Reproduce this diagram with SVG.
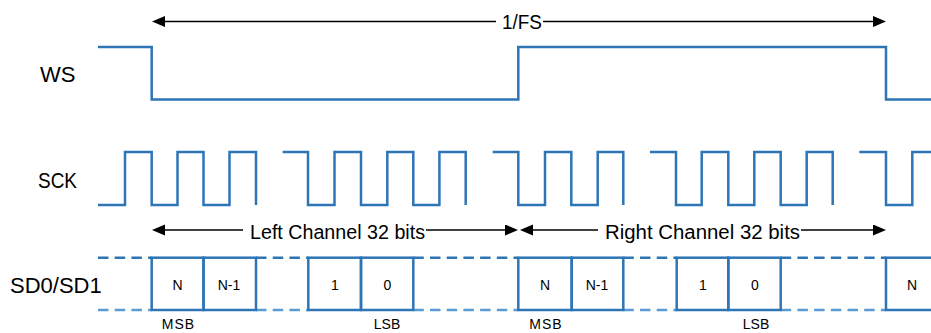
<svg xmlns="http://www.w3.org/2000/svg" width="931" height="333" viewBox="0 0 931 333">
<style>
.wave{fill:none;stroke:#2E75B6;stroke-width:2.5;stroke-linejoin:miter}
.box{fill:none;stroke:#2E75B6;stroke-width:2.5}
.dash{fill:none;stroke:#2E75B6;stroke-width:2.5;stroke-dasharray:10.5 6.2}
.dashb{fill:none;stroke:#5B9BD5;stroke-width:2.5;stroke-dasharray:10.5 6.2}
.arr{fill:none;stroke:#000;stroke-width:1.5}
.lbl{font-family:"Liberation Sans",Arial,sans-serif;font-size:22px;fill:#000}
.mid{font-family:"Liberation Sans",Arial,sans-serif;font-size:20px;fill:#000}
.sm{font-family:"Liberation Sans",Arial,sans-serif;font-size:14px;fill:#000;text-anchor:middle}
</style>
<defs>
<marker id="ah" markerUnits="userSpaceOnUse" markerWidth="14" markerHeight="12" refX="10" refY="5.5" orient="auto-start-reverse">
<path d="M0,0 L13,5.5 L0,11 z" fill="#000"/>
</marker>
</defs>

<g id="label-ws"><text class="lbl" x="40" y="82">WS</text></g>
<g id="label-sck"><text class="lbl" x="38" y="188" textLength="39" lengthAdjust="spacingAndGlyphs">SCK</text></g>
<g id="label-sd"><text class="lbl" x="10" y="293">SD0/SD1</text></g>

<g id="ws-wave">
<path class="wave" d="M98,47 H151.7 V99.5 H518.3 V47 H886 V99.5 H931"/>
</g>

<g id="sck-wave">
<path class="wave" d="M98,205 H125 V152 H151.7 V205 H177.5 V152 H203.5 V205 H229.5 V152 H256 V205"/>
<path class="wave" d="M282.7,152 H308 V205 H334.5 V152 H361 V205 H387.3 V152 H413.3 V205 H439.4 V152 H465.7 V205"/>
<path class="wave" d="M492.7,152 H518.3 V205 H545 V152 H571.3 V205 H597.7 V152 H623.3 V205"/>
<path class="wave" d="M650,152 H676 V205 H701.7 V152 H728.3 V205 H754.3 V152 H780.7 V205 H806.7 V152 H832.7 V205"/>
<path class="wave" d="M859.3,152 H886 V205 H912.3 V152 H931"/>
</g>

<g id="connectors">
<line class="arr" x1="155" y1="21.5" x2="496" y2="21.5" marker-start="url(#ah)"/>
<line class="arr" x1="543" y1="21.5" x2="883" y2="21.5" marker-end="url(#ah)"/>
<line class="arr" x1="155" y1="230" x2="243" y2="230" marker-start="url(#ah)"/>
<line class="arr" x1="426" y1="230" x2="515" y2="230" marker-end="url(#ah)"/>
<line class="arr" x1="523" y1="230" x2="598" y2="230" marker-start="url(#ah)"/>
<line class="arr" x1="801" y1="230" x2="883" y2="230" marker-end="url(#ah)"/>
</g>

<g id="label-fs"><text class="mid" x="502" y="29" textLength="40" lengthAdjust="spacingAndGlyphs">1/FS</text></g>
<g id="label-left"><text class="mid" x="250" y="239" textLength="175" lengthAdjust="spacingAndGlyphs">Left Channel 32 bits</text></g>
<g id="label-right"><text class="mid" x="605" y="239" textLength="195" lengthAdjust="spacingAndGlyphs">Right Channel 32 bits</text></g>

<g id="sd-dashes">
<path class="dash" d="M98,257.7 H151.7 M256,257.7 H308.3 M413.3,257.7 H518.3 M623.3,257.7 H676.7 M780.7,257.7 H886"/>
<path class="dashb" d="M98,310 H151.7 M256,310 H308.3 M413.3,310 H518.3 M623.3,310 H676.7 M780.7,310 H886"/>
</g>

<g id="bit-n-l"><rect class="box" x="151.7" y="257.7" width="51.8" height="52.3"/><text class="sm" x="177.5" y="290">N</text></g>
<g id="bit-n1-l"><rect class="box" x="203.5" y="257.7" width="52.5" height="52.3"/><text class="sm" x="229" y="290">N-1</text></g>
<g id="bit-1-l"><rect class="box" x="308.3" y="257.7" width="52.7" height="52.3"/><text class="sm" x="335" y="290">1</text></g>
<g id="bit-0-l"><rect class="box" x="361" y="257.7" width="52.3" height="52.3"/><text class="sm" x="387.5" y="290">0</text></g>
<g id="bit-n-r"><rect class="box" x="518.3" y="257.7" width="53.4" height="52.3"/><text class="sm" x="545" y="290">N</text></g>
<g id="bit-n1-r"><rect class="box" x="571.7" y="257.7" width="51.6" height="52.3"/><text class="sm" x="597" y="290">N-1</text></g>
<g id="bit-1-r"><rect class="box" x="676.7" y="257.7" width="51.6" height="52.3"/><text class="sm" x="703" y="290">1</text></g>
<g id="bit-0-r"><rect class="box" x="728.3" y="257.7" width="52.4" height="52.3"/><text class="sm" x="755" y="290">0</text></g>
<g id="bit-n-next"><rect class="box" x="886" y="257.7" width="52.5" height="52.3"/><text class="sm" x="912" y="290">N</text></g>

<g id="tags">
<text class="sm" x="178.5" y="329" letter-spacing="1">MSB</text>
<text class="sm" x="387" y="329">LSB</text>
<text class="sm" x="546" y="329" letter-spacing="1">MSB</text>
<text class="sm" x="756" y="329">LSB</text>
</g>
</svg>
